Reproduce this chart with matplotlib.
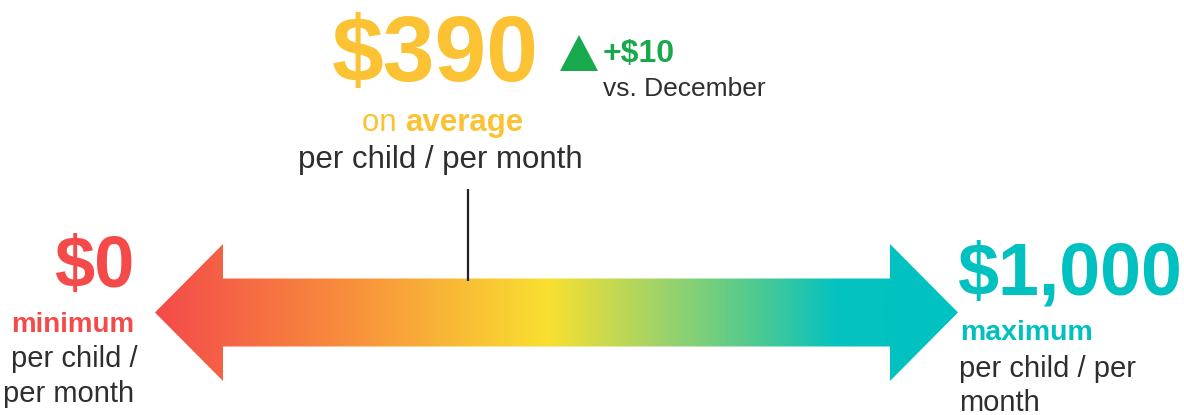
import numpy as np
import matplotlib
matplotlib.use("Agg")
import matplotlib.pyplot as plt
from matplotlib.colors import LinearSegmentedColormap
from matplotlib.patches import Polygon

# ---- data ----
scale_min = 0
scale_max = 1000
average_value = 390
change_value = 10
avg_label = "$390"
min_label = "$0"
max_label = "$1,000"
change_label = "+$10"
change_note = "vs. December"

# gradient stops (position along scale, colour)
grad_pos = [0.0, 0.25, 0.49, 0.62, 0.75, 0.85, 1.0]
grad_col = ["#F44A4A", "#F8923C", "#F9E030", "#A6D465", "#4ECA92", "#05C2C0", "#00C2C2"]

RED = "#F44A4A"
YEL = "#FBC233"
TEAL = "#00C0C0"
GREEN = "#18A94C"
DARK = "#2E2E2E"

W, H = 1184, 415
fig = plt.figure(figsize=(W / 100, H / 100), dpi=100)
plt.rcParams['font.family'] = ['Liberation Sans', 'DejaVu Sans']

def fx(px):
    return px / W

def fy(py):
    return 1 - py / H

# arrow axes: 0 at px 155, 1000 at px 958 ; vertical 244..381
ax = fig.add_axes([fx(155), fy(381), (958 - 155) / W, (381 - 244) / H])
ax.set_xlim(scale_min, scale_max)
ax.set_ylim(-1, 1)
ax.axis("off")

span = scale_max - scale_min
head = span * 68 / 803
shaft = 34 / 68.5  # half-height of shaft relative to head half-height
poly = [
    (scale_min, 0), (scale_min + head, 1), (scale_min + head, shaft),
    (scale_max - head, shaft), (scale_max - head, 1), (scale_max, 0),
    (scale_max - head, -1), (scale_max - head, -shaft), (scale_min + head, -shaft),
    (scale_min + head, -1),
]
patch = Polygon(poly, closed=True, facecolor="none", edgecolor="none")
ax.add_patch(patch)
cmap = LinearSegmentedColormap.from_list("g", list(zip(grad_pos, grad_col)))
grad = np.linspace(0, 1, 512).reshape(1, -1)
im = ax.imshow(grad, cmap=cmap, aspect="auto", extent=[scale_min, scale_max, -1, 1],
               interpolation="bilinear")
im.set_clip_path(patch)

# marker line for the average
ax.plot([average_value, average_value], [shaft - 0.03, shaft + 1.30], color="#222222",
        lw=1.6, clip_on=False, solid_capstyle="butt")

# ---- texts ----
fig.text(fx(435), fy(81), avg_label, ha="center", va="baseline", fontsize=67,
         fontweight="bold", color=YEL)
# triangle
fig.patches.append(Polygon([(fx(560), fy(71)), (fx(598), fy(71)), (fx(579), fy(35))],
                           closed=True, transform=fig.transFigure, facecolor=GREEN,
                           edgecolor="none"))
fig.text(fx(603), fy(62), change_label, ha="left", va="baseline", fontsize=23,
         fontweight="bold", color=GREEN)
fig.text(fx(603), fy(96), change_note, ha="left", va="baseline", fontsize=19, color=DARK)

fig.text(fx(362), fy(131), "on ", ha="left", va="baseline", fontsize=22.5, color=YEL)
fig.text(fx(405), fy(131), "average", ha="left", va="baseline", fontsize=22.5,
         fontweight="bold", color=YEL)
fig.text(fx(440), fy(168), "per child / per month", ha="center", va="baseline",
         fontsize=22.5, color=DARK)

# min
fig.text(fx(134), fy(287), min_label, ha="right", va="baseline", fontsize=52,
         fontweight="bold", color=RED)
fig.text(fx(134), fy(332), "minimum", ha="right", va="baseline", fontsize=20,
         fontweight="bold", color=RED)
fig.text(fx(138), fy(367), "per child /", ha="right", va="baseline", fontsize=21, color=DARK)
fig.text(fx(134), fy(402), "per month", ha="right", va="baseline", fontsize=21, color=DARK)

# max
fig.text(fx(958), fy(295), max_label, ha="left", va="baseline", fontsize=53,
         fontweight="bold", color=TEAL)
fig.text(fx(960), fy(340), "maximum", ha="left", va="baseline", fontsize=20.5,
         fontweight="bold", color=TEAL)
fig.text(fx(959), fy(377), "per child / per", ha="left", va="baseline", fontsize=21, color=DARK)
fig.text(fx(959), fy(411), "month", ha="left", va="baseline", fontsize=21, color=DARK)

fig.savefig("out.png", dpi=100, facecolor="white")
